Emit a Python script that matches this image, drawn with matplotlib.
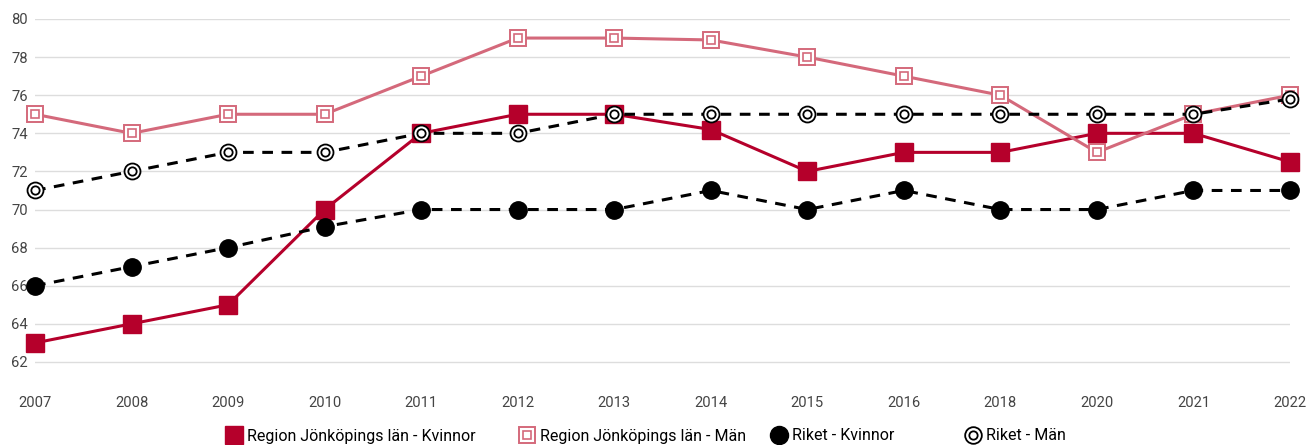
import matplotlib.pyplot as plt
from matplotlib.lines import Line2D

plt.rcParams['font.family'] = ['Roboto', 'DejaVu Sans']

years = ['2007', '2008', '2009', '2010', '2011', '2012', '2013',
         '2014', '2015', '2016', '2018', '2020', '2021', '2022']
region_kvinnor = [63, 64, 65, 70, 74, 75, 75, 74.2, 72, 73, 73, 74, 74, 72.5]
region_man = [75, 74, 75, 75, 77, 79, 79, 78.9, 78, 77, 76, 73, 75, 76]
riket_kvinnor = [66, 67, 68, 69.1, 70, 70, 70, 71, 70, 71, 70, 70, 71, 71]
riket_man = [71, 72, 73, 73, 74, 74, 75, 75, 75, 75, 75, 75, 75, 75.8]

labels = ['Region Jönköpings län - Kvinnor', 'Region Jönköpings län - Män',
          'Riket - Kvinnor', 'Riket - Män']

red = '#b5002b'
pink = '#d4697b'

fig = plt.figure(figsize=(13.07, 4.45), dpi=100)
ax = fig.add_axes([35 / 1307, 64 / 445, 1255 / 1307, 362 / 445])

x = list(range(len(years)))

ax.plot(x, region_kvinnor, color=red, lw=2.2, marker='s', ms=12.5,
        mfc=red, mec=red, clip_on=False, zorder=3)
ax.plot(x, region_man, color=pink, lw=2.2, marker='s', ms=11,
        mfc='white', mec=pink, mew=1.4, clip_on=False, zorder=4)
ax.plot(x, region_man, ls='none', marker='s', ms=6,
        mfc='white', mec=pink, mew=1.2, clip_on=False, zorder=4)
ax.plot(x, riket_kvinnor, color='black', lw=2.2, ls=(0, (3.5, 2.8)),
        marker='o', ms=12.5, mfc='black', mec='black', clip_on=False, zorder=5)
ax.plot(x, riket_man, color='black', lw=2.2, ls=(0, (3.5, 2.8)),
        marker='o', ms=11.5, mfc='white', mec='black', mew=1.3,
        clip_on=False, zorder=6)
ax.plot(x, riket_man, ls='none', marker='o', ms=6,
        mfc='white', mec='black', mew=1.3, clip_on=False, zorder=6)

ax.set_xlim(0, len(years) - 1)
ax.set_ylim(61, 80)
ax.set_yticks(range(62, 81, 2))
ax.set_xticks(x)
ax.set_xticklabels(years)
ax.tick_params(axis='both', length=0, labelsize=10.6, labelcolor='#444444')
ax.tick_params(axis='x', pad=11)
ax.tick_params(axis='y', pad=5)
ax.grid(axis='y', color='#dddddd', lw=1)
ax.set_axisbelow(True)
for s in ax.spines.values():
    s.set_visible(False)

h1 = Line2D([], [], ls='none', marker='s', ms=13, mfc=red, mec=red)
h2a = Line2D([], [], ls='none', marker='s', ms=12, mfc='white', mec=pink, mew=1.4)
h2b = Line2D([], [], ls='none', marker='s', ms=6, mfc='white', mec=pink, mew=1.2)
h3 = Line2D([], [], ls='none', marker='o', ms=13, mfc='black', mec='black')
h4a = Line2D([], [], ls='none', marker='o', ms=12, mfc='white', mec='black', mew=1.3)
h4b = Line2D([], [], ls='none', marker='o', ms=6, mfc='white', mec='black', mew=1.3)

# one legend per entry, so the uneven gaps of the original can be kept
handles = [h1, (h2a, h2b), h3, (h4a, h4b)]
lefts = [226, 519, 771, 965]
for h, lab, left in zip(handles, labels, lefts):
    fig.legend([h], [lab], loc='center left',
               bbox_to_anchor=(left / 1307, 9 / 445), frameon=False,
               fontsize=11.5, handlelength=1.0, handletextpad=0.3,
               borderpad=0, borderaxespad=0)

fig.savefig('out.png', dpi=100)
